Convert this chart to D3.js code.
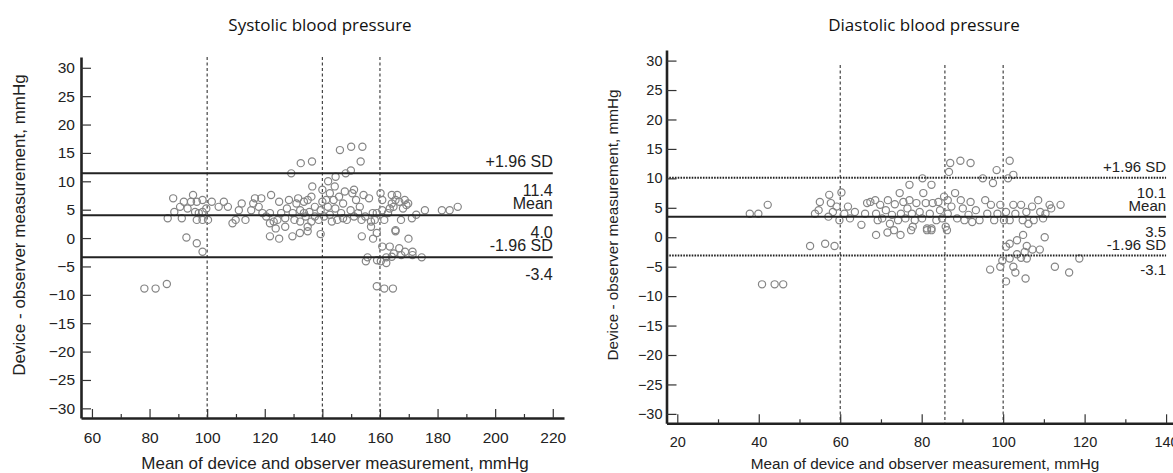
<!DOCTYPE html>
<html>
<head>
<meta charset="utf-8">
<script src="https://cdn.jsdelivr.net/npm/d3@7"></script>
<style>
body { margin: 0; background: #fff; }
text { font-family: "Liberation Sans", Arial, sans-serif; fill: #222; }
.title { font-family: "Open Sans", sans-serif; fill: #111; }
</style>
</head>
<body>
<svg id="chart" width="1173" height="473"></svg>
<script>
// systolic: [mean of device and observer, device - observer]
var sbpPoints = [
  [146.1,15.5],[150.0,16.1],[153.9,16.1],[153.3,13.5],[149.9,11.9],[148.1,11.4],[132.5,13.2],[136.4,13.5],
  [129.2,11.4],[144.6,10.8],[142.0,10.0],[144.3,9.1],[140.0,8.5],[136.5,9.1],
  [88.2,7.0],[88.6,4.6],[86.3,3.5],[90.6,5.5],[91.9,6.4],[93.2,5.2],[91.2,3.5],[95.1,7.6],[94.4,6.4],
  [96.4,6.4],[95.8,4.6],[97.1,4.4],[98.4,6.7],[98.4,4.6],[96.4,3.2],[98.4,3.2],[100.3,3.2],[99.7,5.2],
  [101.6,6.4],[104.0,5.5],[105.8,6.4],[107.2,5.5],[108.8,2.6],[111.0,4.9],[112.0,6.1],[109.9,3.2],
  [113.3,3.2],[115.3,4.9],[116.6,7.0],[116.0,6.1],[118.8,7.0],[117.9,5.5],[119.2,4.4],[120.5,3.8],
  [122.2,7.6],[123.1,2.9],[124.4,3.2],[125.0,6.4],[121.8,2.6],[123.8,1.7],[127.1,3.5],[127.1,2.0],
  [128.4,6.7],[129.7,4.4],[131.6,7.0],[131.0,6.1],[132.3,4.9],[132.3,2.9],[133.6,6.4],[134.2,3.8],
  [134.9,2.0],[135.5,4.6],[134.9,6.7],[136.2,7.3],[137.4,5.5],[137.4,3.8],[139.4,4.9],[138.7,3.2],
  [140.0,6.4],[141.3,6.7],[141.9,5.5],[142.6,7.9],[142.6,4.1],[143.9,6.7],[144.5,5.2],[145.2,3.2],
  [145.8,7.3],[146.5,4.4],[147.2,6.1],[147.8,8.2],[148.5,3.2],[149.8,4.9],[150.4,7.9],[151.0,8.5],
  [151.7,6.7],[152.4,4.4],[153.0,5.5],[153.6,3.2],[154.3,7.6],[156.2,7.0],[157.5,4.4],[156.9,2.9],
  [156.9,2.0],[158.2,3.2],[160.2,7.9],[160.8,6.7],[160.8,4.9],[161.5,3.2],[162.8,4.4],[164.1,7.6],
  [164.1,6.1],[164.7,5.5],[165.4,6.7],[166.0,7.6],[166.7,6.4],[168.0,5.2],[168.6,6.7],[167.3,3.2],
  [165.4,1.4],[169.2,5.8],[169.8,6.1],[171.1,3.5],[172.6,4.1],[175.6,4.9],[181.5,4.9],[184.2,4.9],
  [187.0,5.5],[121.8,4.4],[125.7,4.4],[127.7,5.2],[130.3,3.2],[133.6,4.4],[136.2,2.9],[140.6,3.8],
  [143.3,2.9],[147.2,3.5],[151.0,3.8],[154.9,3.8],[158.9,4.4],[163.4,5.2],
  [92.8,0.1],[96.4,-0.9],[98.4,-2.4],[82.1,-8.9],[78.2,-8.9],[86.0,-8.1],[121.8,0.3],[125.0,-0.1],
  [129.6,0.3],[132.2,0.9],[134.9,1.2],[139.4,0.7],[153.7,0.3],[157.6,-0.1],[158.9,0.9],[165.4,1.2],
  [169.9,-0.1],[160.8,-1.5],[163.4,-1.5],[166.7,-1.8],[168.7,-2.4],[164.8,-2.7],[171.3,-2.4],
  [171.3,-3.0],[174.5,-3.4],[167.4,-3.0],[155.7,-3.4],[155.1,-4.1],[159.0,-3.9],[162.2,-3.4],
  [162.2,-4.4],[164.1,-3.3],[160.3,-4.1],[158.9,-8.5],[161.5,-8.9],[164.5,-8.9]
];

// diastolic
var dbpPoints = [
  [37.8,4.0],[39.9,4.0],[42.2,5.5],[53.8,4.0],[54.7,4.6],[55.0,6.0],[57.3,7.2],[57.7,5.8],[58.2,4.3],
  [57.1,3.5],[59.1,5.2],[60.3,7.6],[59.8,2.9],[61.0,4.0],[61.9,5.2],[62.4,3.2],[63.6,4.3],[65.2,2.1],
  [66.1,4.0],[66.6,5.8],[67.4,6.0],[68.6,6.3],[68.8,4.0],[69.2,2.9],[69.8,5.5],[70.3,3.2],[71.2,4.6],
  [71.7,6.3],[72.2,2.3],[72.7,3.8],[73.2,1.2],[73.4,5.6],[74.2,2.9],[74.6,7.5],[74.9,4.0],[75.5,6.0],
  [76.0,3.2],[76.5,4.9],[77.0,6.3],[77.0,8.9],[77.6,4.0],[77.8,1.8],[78.3,2.9],[78.7,5.8],[79.5,4.3],
  [80.1,3.2],[80.2,10.0],[80.4,7.5],[81.0,5.8],[81.3,1.5],[82.0,4.0],[82.4,8.9],[82.4,1.5],[82.7,5.8],
  [83.6,2.9],[84.1,6.0],[84.5,4.6],[85.0,3.2],[85.5,6.9],[85.9,1.8],[86.4,4.0],[86.7,11.1],[87.0,12.6],
  [89.5,13.0],[92.0,12.6],[86.4,6.3],[87.3,5.2],[88.2,7.5],[88.7,3.2],[89.6,6.3],[90.1,4.9],[90.5,2.9],
  [91.5,3.8],[92.0,6.0],[92.4,2.6],[93.3,4.6],[94.2,2.9],[95.0,10.0],[95.6,6.3],[96.1,4.0],[97.0,5.5],
  [97.5,9.2],[97.8,2.9],[98.4,11.4],[98.6,4.0],[99.3,5.5],[100.2,2.9],[100.7,4.3],[101.2,10.0],
  [101.6,13.0],[102.5,10.6],[102.5,5.5],[103.0,4.0],[104.4,5.5],[104.8,2.9],[105.7,4.3],[107.1,5.2],
  [107.5,2.9],[108.6,6.3],[109.1,4.3],[109.8,3.2],[111.4,5.5],[111.8,4.9],[114.1,5.5],[110.4,4.0],
  [101.6,2.9],[106.2,2.3],
  [52.6,-1.5],[56.3,-1.1],[58.6,-1.5],[68.8,0.4],[71.6,0.8],[74.8,0.4],[77.4,1.2],[81.3,1.2],[82.4,1.2],
  [86.2,1.2],[104.9,0.4],[110.2,0.0],[103.4,-0.5],[101.6,-1.1],[100.7,-1.6],[105.8,-1.5],[107.2,-2.1],
  [109.0,-2.1],[105.3,-2.5],[103.4,-2.9],[104.4,-3.5],[101.6,-3.6],[105.8,-3.6],[118.7,-3.6],[99.8,-4.0],
  [102.5,-5.0],[99.3,-5.0],[96.8,-5.5],[103.0,-6.0],[112.7,-5.0],[116.2,-6.0],[100.7,-7.5],[105.5,-7.0],
  [40.8,-8.0],[43.9,-8.0],[46.0,-8.0]
];

var sbpLimits = [11.4, 4.0, -3.4];
var dbpLimits = [10.1, 3.5, -3.1];
var limitNames = ['+1.96 SD', 'Mean', '-1.96 SD'];
var sbpVLines = [100, 140, 160];
var dbpVLines = [60, 85.7, 100];
var yTicks = d3.range(-30, 31, 5);
var sbpXTicks = d3.range(60, 221, 20);
var sbpXMinor = d3.range(70, 220, 20);
var dbpXTicks = d3.range(20, 141, 20);
var dbpXMinor = d3.range(30, 140, 20);

var svg = d3.select('#chart');

function drawPanel(p) {
  var x = d3.scaleLinear().domain(p.xDomain).range(p.xRange);
  var y = d3.scaleLinear().domain(p.yDomain).range(p.yRange);
  var g = svg.append('g');

  // title
  g.append('text')
    .attr('class', 'title')
    .attr('x', p.titleX).attr('y', 31)
    .attr('text-anchor', 'middle')
    .style('font-size', '17px')
    .text(p.title);

  // vertical dashed reference lines
  g.selectAll('.vline')
    .data(p.vlines)
    .enter().append('line')
    .attr('x1', function(d) { return x(d); })
    .attr('x2', function(d) { return x(d); })
    .attr('y1', y(p.vTop))
    .attr('y2', y(p.yDomain[0]))
    .attr('stroke', '#333')
    .attr('stroke-width', 1.1)
    .attr('stroke-dasharray', '3,2.5');

  // points
  g.selectAll('circle')
    .data(p.points)
    .enter().append('circle')
    .attr('cx', function(d) { return x(d[0]); })
    .attr('cy', function(d) { return y(d[1]); })
    .attr('r', 3.6)
    .attr('fill', 'none')
    .attr('stroke', '#858585')
    .attr('stroke-width', 1.2);

  // mean and limits of agreement
  g.selectAll('.hline')
    .data(p.limits)
    .enter().append('line')
    .attr('x1', x(p.xDomain[0]))
    .attr('x2', x(p.lineEnd))
    .attr('y1', function(d) { return y(d); })
    .attr('y2', function(d) { return y(d); })
    .attr('stroke', '#222')
    .attr('stroke-width', 2)
    .attr('stroke-dasharray', function(d, i) { return (i != 1 && p.dottedLimits) ? '1.6,1.2' : null; });

  var lab = g.selectAll('.lab')
    .data(p.limits)
    .enter().append('g')
    .attr('transform', function(d) { return 'translate(' + x(p.lineEnd) + ',' + y(d) + ')'; })
    .style('font-size', p.labelSize + 'px')
    .attr('text-anchor', 'end');
  lab.append('text')
    .attr('y', -p.labelAbove)
    .text(function(d, i) { return limitNames[i]; });
  lab.append('text')
    .attr('y', p.labelBelow)
    .text(function(d) { return d.toFixed(1); });

  // axes
  var yAxis = g.append('g')
    .attr('transform', 'translate(' + p.xRange[0] + ',0)')
    .call(d3.axisLeft(y).tickValues(yTicks).tickSize(-10).tickSizeOuter(0).tickPadding(p.yPad));
  var xAxis = g.append('g')
    .attr('transform', 'translate(0,' + p.yRange[0] + ')')
    .call(d3.axisBottom(x).tickValues(p.xTicks).tickSize(-9).tickSizeOuter(0).tickPadding(p.xPad));
  var xMinor = g.append('g')
    .attr('transform', 'translate(0,' + p.yRange[0] + ')')
    .call(d3.axisBottom(x).tickValues(p.xMinor).tickSize(-4).tickSizeOuter(0).tickFormat(''));
  xMinor.select('.domain').remove();

  [yAxis, xAxis, xMinor].forEach(function(a) {
    a.selectAll('.tick line').attr('stroke', '#333').attr('stroke-width', 1.2);
    a.selectAll('.domain').attr('stroke', '#222').attr('stroke-width', 2.6);
    a.selectAll('text').style('font-size', p.tickSize + 'px').attr('fill', '#222')
      .style('font-family', '"Liberation Sans", Arial, sans-serif');
  });

  // axis titles
  g.append('text')
    .attr('x', p.xLabelX).attr('y', 469)
    .attr('text-anchor', 'middle')
    .style('font-size', p.axisLabelSize + 'px')
    .text('Mean of device and observer measurement, mmHg');
  g.append('text')
    .attr('transform', 'translate(' + p.yLabelX + ',225) rotate(-90)')
    .attr('text-anchor', 'middle')
    .style('font-size', p.axisLabelSize + 'px')
    .text('Device - observer measurement, mmHg');
}

drawPanel({
  title: 'Systolic blood pressure', titleX: 320,
  points: sbpPoints, limits: sbpLimits, vlines: sbpVLines,
  xDomain: [56.2, 223.9], xRange: [81, 564],
  yDomain: [-31.7, 31.9], yRange: [418, 57],
  xTicks: sbpXTicks, xMinor: sbpXMinor, vTop: 31.9, lineEnd: 220,
  dottedLimits: false, labelSize: 16, labelAbove: 6, labelBelow: 23,
  tickSize: 15.5, axisLabelSize: 17, yPad: 6, xPad: 14,
  xLabelX: 335, yLabelX: 25
});

drawPanel({
  title: 'Diastolic blood pressure', titleX: 924,
  points: dbpPoints, limits: dbpLimits, vlines: dbpVLines,
  xDomain: [17.35, 141.7], xRange: [666.5, 1173],
  yDomain: [-31.6, 31.8], yRange: [423.3, 50],
  xTicks: dbpXTicks, xMinor: dbpXMinor, vTop: 29.25, lineEnd: 140,
  dottedLimits: true, labelSize: 15, labelAbove: 5.5, labelBelow: 20,
  tickSize: 14.5, axisLabelSize: 15.3, yPad: 4, xPad: 13,
  xLabelX: 925, yLabelX: 618
});
</script>
</body>
</html>
